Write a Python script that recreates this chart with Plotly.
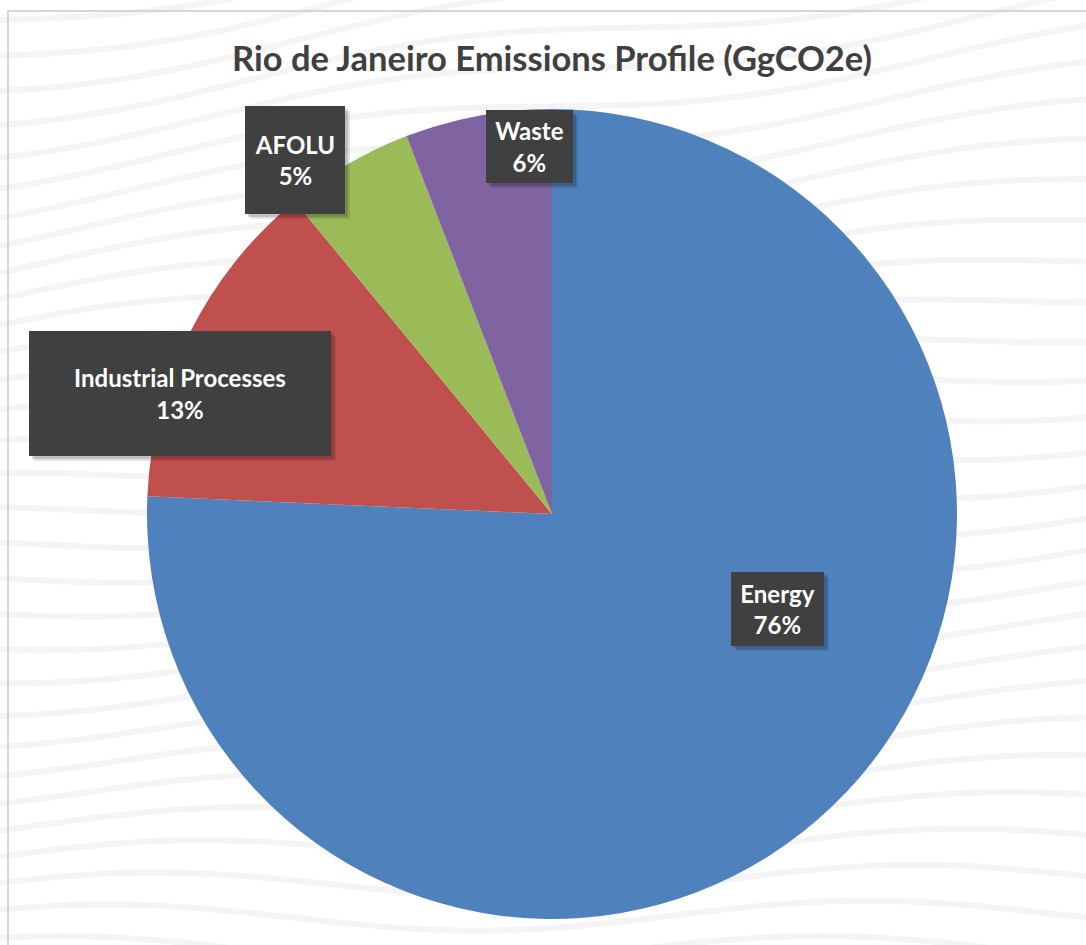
import math
import plotly.graph_objects as go

# ---- data ----
categories = ["Energy", "Industrial Processes", "AFOLU", "Waste"]
shares = [75.7, 13.35, 5.1, 5.85]
colors = ["#4F81BD", "#C0504D", "#9BBB59", "#8064A2"]
title_text = "Rio de Janeiro Emissions Profile (GgCO2e)"

# ---- layout / style ----
W, H = 1086, 945
CX, CY, R = 552, 514, 405          # pie centre and radius in pixels
label_radius = [0.604, 0.965, 1.080, 0.909]   # label distance (fraction of R)
label_turn = [-23.4, -8.6, -5.7, 7.1]         # angular nudge from slice middle (deg)
box_w = [93, 302, 100, 87]
box_h = [74, 125, 108, 73]
FONT = "Lato"

fig = go.Figure()
fig.add_trace(go.Pie(
    labels=categories,
    values=shares,
    marker=dict(colors=colors, line=dict(width=0)),
    sort=False,
    direction="clockwise",
    rotation=0,
    textinfo="none",
    hoverinfo="label+percent",
    showlegend=False,
    domain=dict(x=[(CX - R) / W, (CX + R) / W],
                y=[1 - (CY + R) / H, 1 - (CY - R) / H]),
))

# background wave decoration
shapes = []
for k in range(-4, 32):
    pts = []
    for i in range(0, 57):
        x = i * 20
        y = 20 + k * 31 + 14 * math.sin(2 * math.pi * x / 760 + 0.35 * k) - 0.15 * x * (1 - k / 30)
        pts.append((x / W, 1 - y / H))
    path = "M " + " L ".join(f"{px:.4f},{py:.4f}" for px, py in pts)
    shapes.append(dict(type="path", path=path, xref="paper", yref="paper",
                       line=dict(color="rgba(0,0,0,0.045)", width=6), layer="below"))
# frame
shapes.append(dict(type="rect", xref="paper", yref="paper",
                   x0=8 / W, x1=1.02, y0=-0.02, y1=1 - 11 / H,
                   line=dict(color="#c9c9c9", width=1.5), layer="below"))

annotations = []
total = sum(shares)
cum = 0
for i, (cat, v) in enumerate(zip(categories, shares)):
    mid = (cum + v / 2) / total * 360
    cum += v
    ang = math.radians(mid + label_turn[i])
    px = CX + label_radius[i] * R * math.sin(ang)
    py = CY - label_radius[i] * R * math.cos(ang)
    pct = round(100 * v / total)
    common = dict(x=px / W, y=1 - py / H, xref="paper", yref="paper",
                  xanchor="center", yanchor="middle", showarrow=False,
                  width=box_w[i], height=box_h[i], borderpad=0, borderwidth=0)
    annotations.append(dict(text=" ", bgcolor="rgba(0,0,0,0.10)", xshift=5, yshift=-5, **common))
    annotations.append(dict(text=" ", bgcolor="rgba(0,0,0,0.16)", xshift=3, yshift=-3, **common))
    annotations.append(dict(text=f"<b>{cat}<br>{pct}%</b>", bgcolor="#404040",
                            font=dict(family=FONT, size=24, color="white"), **common))

annotations.append(dict(text=f"<b>{title_text}</b>", x=552 / W, y=1 - 57 / H,
                        xref="paper", yref="paper", xanchor="center", yanchor="middle",
                        showarrow=False, font=dict(family=FONT, size=34.5, color="#404040")))

fig.update_layout(
    width=W, height=H,
    margin=dict(l=0, r=0, t=0, b=0),
    paper_bgcolor="white",
    plot_bgcolor="white",
    shapes=shapes,
    annotations=annotations,
)

fig.write_html("out.html")
